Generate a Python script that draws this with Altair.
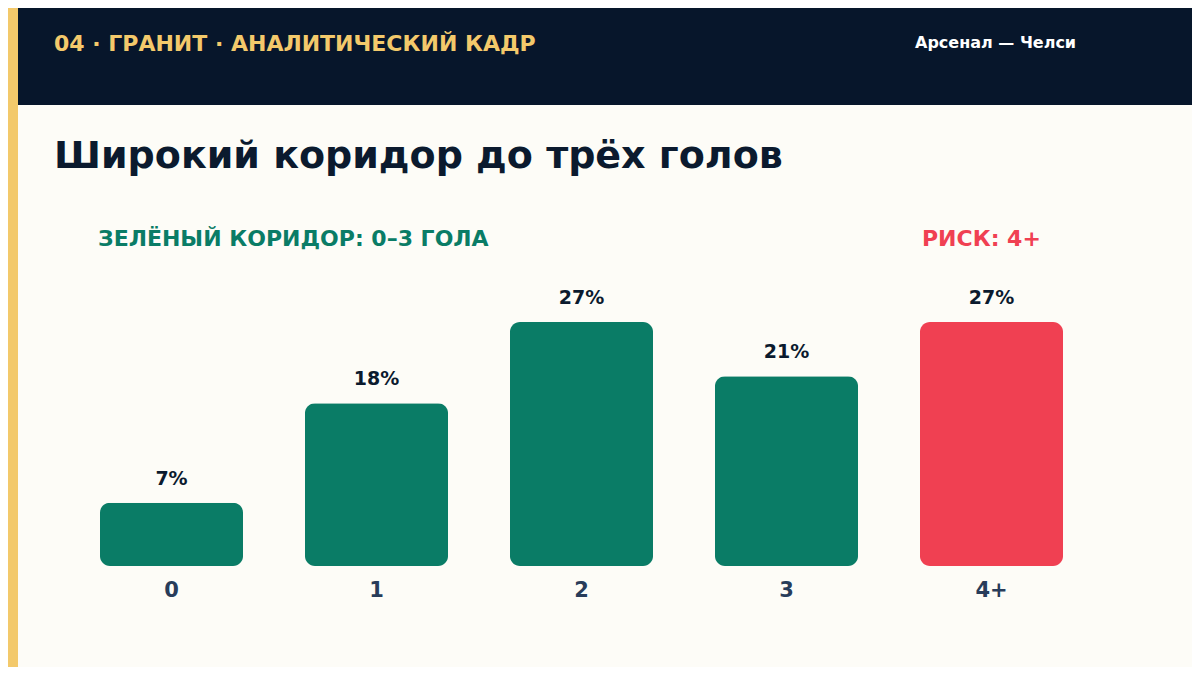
import pandas as pd
import altair as alt

# goals distribution
goals = ["0", "1", "2", "3", "4+"]
share = [7, 18, 27, 21, 27]
zone = ["green", "green", "green", "green", "risk"]

kicker = "04 · ГРАНИТ · АНАЛИТИЧЕСКИЙ КАДР"
match = "Арсенал — Челси"
headline = "Широкий коридор до трёх голов"
green_note = "ЗЕЛЁНЫЙ КОРИДОР: 0–3 ГОЛА"
risk_note = "РИСК: 4+"

FONT = "DejaVu Sans"
BG = "#FDFCF7"
NAVY = "#07162B"
GOLD = "#F3C96B"
GREEN = "#0A7C66"
RED = "#F04052"

df = pd.DataFrame({"goals": goals, "share": share, "zone": zone})
df["label"] = df["share"].astype(str) + "%"
one = pd.DataFrame({"a": [0]})

# page has an 8px margin, keep the chart inside the window
W, H = 1184, 659

x = alt.X("goals:N", sort=goals, axis=None,
          scale=alt.Scale(range=[61, 1086], paddingInner=0.302, paddingOuter=0.151))
y = alt.Y("share:Q", axis=None, scale=alt.Scale(domain=[0, 27], range=[558, 314], nice=False, zero=True))

bars = alt.Chart(df).mark_bar(cornerRadius=10).encode(
    x=x, y=y,
    color=alt.Color("zone:N", scale=alt.Scale(domain=["green", "risk"], range=[GREEN, RED]), legend=None),
)
pct = alt.Chart(df).mark_text(font=FONT, fontSize=19, fontWeight="bold", color="#0B1A2E",
                              baseline="alphabetic", dy=-18).encode(x=x, y=y, text="label:N")
cats = alt.Chart(df).mark_text(font=FONT, fontSize=21, fontWeight="bold", color="#283C5A",
                               baseline="alphabetic").encode(x=x, y=alt.value(589), text="goals:N")

header = alt.Chart(one).mark_rect(color=NAVY).encode(
    x=alt.value(10), x2=alt.value(W), y=alt.value(0), y2=alt.value(97))
strip = alt.Chart(one).mark_rect(color=GOLD).encode(
    x=alt.value(0), x2=alt.value(10), y=alt.value(0), y2=alt.value(H))


def txt(s, xx, yy, size, color):
    return alt.Chart(one).mark_text(text=s, font=FONT, fontSize=size, fontWeight="bold", color=color,
                                    align="left", baseline="alphabetic").encode(x=alt.value(xx), y=alt.value(yy))


chart = alt.layer(
    header, strip,
    txt(kicker, 46, 43, 22, GOLD),
    txt(match, 907, 40, 16, "#FFFFFF"),
    txt(headline, 46, 160, 38, "#0B1A2E"),
    txt(green_note, 90, 238, 22, GREEN),
    txt(risk_note, 914, 238, 22, RED),
    bars, pct, cats,
).properties(
    width=W, height=H, padding=0, autosize=alt.AutoSizeParams(type="none"), background=BG,
).configure_view(stroke=None)

chart.save("out.html", embed_options={"renderer": "svg", "actions": False})
